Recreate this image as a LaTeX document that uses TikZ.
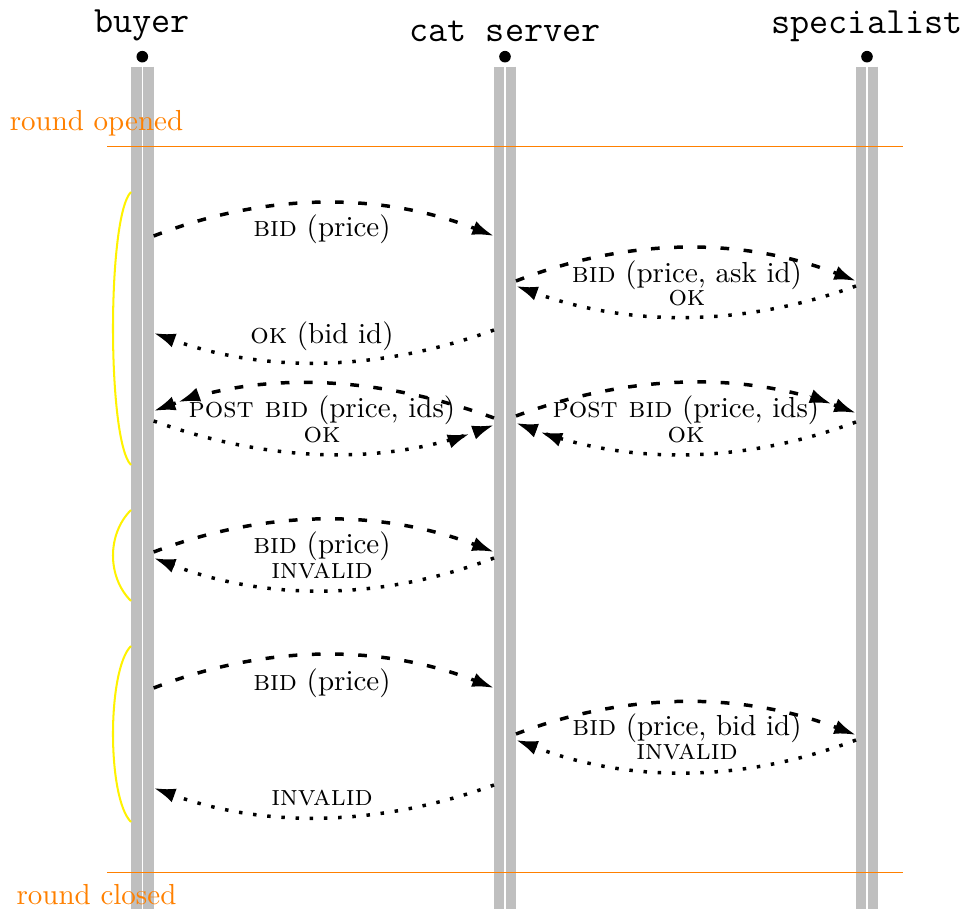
\documentclass[tikz,border=0pt]{standalone}
\usetikzlibrary{arrows.meta}
\begin{document}
\begin{tikzpicture}[x=0.3448pt,y=-0.3448pt,
  lifeline/.style={line width=7.8pt, color=lightgray},
  gapline/.style={line width=0.5pt, white},
  dot/.style={circle, fill=black, inner sep=0pt, minimum size=4pt},
  title/.style={font=\fontsize{12.8}{15}\selectfont\ttfamily, anchor=south, inner sep=0pt},
  tip/.style={-{Latex[length=7.5pt,width=5pt]}},
  dbl/.style={-{Latex[length=7.5pt,width=5pt,sep=1.5pt]Latex[length=7.5pt,width=5pt]}},
  req/.style={line width=1.2pt, dash pattern=on 3pt off 5pt},
  resp/.style={line width=1.2pt, dash pattern=on 1.2pt off 3.7pt},
  lbl/.style={inner sep=0pt},
  phase/.style={orange, line width=0.35pt},
  phasetext/.style={text=orange, inner sep=0pt},
  brace/.style={yellow, line width=0.7pt}]
\useasboundingbox (0,0) rectangle (972,909);

% participants
\node[dot] (bd) at (142.3,56.7) {};
\node[dot] (sd) at (505,56.7) {};
\node[dot] (pd) at (867,56.7) {};
\node[title] (bt) at (142.3,42) {buyer};
\node[title] (st) at (505,42) {cat server};
\node[title] (pt) at (867,42) {specialist};

\coordinate (btop) at (142.3,66.7); \coordinate (bbot) at (142.3,909);
\coordinate (stop) at (505,66.7);   \coordinate (sbot) at (505,909);
\coordinate (ptop) at (867,66.7);   \coordinate (pbot) at (867,909);
\draw[lifeline] (btop) -- (bbot); \draw[gapline] (btop) -- (bbot);
\draw[lifeline] (stop) -- (sbot); \draw[gapline] (stop) -- (sbot);
\draw[lifeline] (ptop) -- (pbot); \draw[gapline] (ptop) -- (pbot);

% round lines
\coordinate (o1) at (107,147); \coordinate (o2) at (903,147);
\coordinate (c1) at (107,873); \coordinate (c2) at (903,873);
\draw[phase] (o1) -- (o2);
\draw[phase] (c1) -- (c2);
\node[phasetext] (ro) at (96.5,123) {round opened};
\node[phasetext] (rc) at (96.5,895) {round closed};

% braces
\coordinate (y1a) at (131,192); \coordinate (y1b) at (131,465);
\coordinate (y2a) at (131,510); \coordinate (y2b) at (131,601);
\coordinate (y3a) at (131,646); \coordinate (y3b) at (131,822);
\draw[brace] (y1a) .. controls +(-24,24) and +(-24,-24) .. (y1b);
\draw[brace] (y2a) .. controls +(-24,24) and +(-24,-24) .. (y2b);
\draw[brace] (y3a) .. controls +(-24,24) and +(-24,-24) .. (y3b);

% message end points
\coordinate (a1s) at (153.7,236); \coordinate (a1e) at (494,236);
\coordinate (a2s) at (516,281);   \coordinate (a2e) at (856,281);
\coordinate (a3s) at (856,286);   \coordinate (a3e) at (516,286);
\coordinate (a4s) at (494,330);   \coordinate (a4e) at (153.7,333);
\coordinate (a5s) at (494,418);   \coordinate (a5e) at (153.7,411);
\coordinate (a6s) at (153.7,421); \coordinate (a6e) at (494,425);
\coordinate (a7s) at (516,416);   \coordinate (a7e) at (856,413);
\coordinate (a8s) at (856,422);   \coordinate (a8e) at (516,423);
\coordinate (a9s) at (153.7,552); \coordinate (a9e) at (494,552);
\coordinate (a10s) at (494,558);  \coordinate (a10e) at (153.7,558);
\coordinate (a11s) at (153.7,688);\coordinate (a11e) at (494,688);
\coordinate (a12s) at (516,734);  \coordinate (a12e) at (856,735);
\coordinate (a13s) at (856,740);  \coordinate (a13e) at (516,740);
\coordinate (a14s) at (494,785);  \coordinate (a14e) at (153.7,788);

\draw[req,tip]  (a1s) .. controls +(113,-44) and +(-113,-44) .. (a1e);
\draw[req,tip]  (a2s) .. controls +(113,-44) and +(-113,-44) .. (a2e);
\draw[resp,tip] (a3s) .. controls +(-113,41) and +(113,41) .. (a3e);
\draw[resp,tip] (a4s) .. controls +(-113,41) and +(113,41) .. (a4e);
\draw[req,dbl]  (a5s) .. controls +(-113,-41) and +(113,-41) .. (a5e);
\draw[resp,dbl] (a6s) .. controls +(113,41) and +(-113,41) .. (a6e);
\draw[req,dbl]  (a7s) .. controls +(113,-42) and +(-113,-42) .. (a7e);
\draw[resp,dbl] (a8s) .. controls +(-113,42) and +(113,42) .. (a8e);
\draw[req,tip]  (a9s) .. controls +(113,-43) and +(-113,-43) .. (a9e);
\draw[resp,tip] (a10s) .. controls +(-113,43) and +(113,43) .. (a10e);
\draw[req,tip]  (a11s) .. controls +(113,-44) and +(-113,-44) .. (a11e);
\draw[req,tip]  (a12s) .. controls +(113,-43) and +(-113,-43) .. (a12e);
\draw[resp,tip] (a13s) .. controls +(-113,43) and +(113,43) .. (a13e);
\draw[resp,tip] (a14s) .. controls +(-113,41) and +(113,41) .. (a14e);

% labels
\node[lbl] (l1)  at (322,229) {\textsc{bid} (price)};
\node[lbl] (l2)  at (687,275) {\textsc{bid} (price, ask id)};
\node[lbl] (l3)  at (687,298) {\textsc{ok}};
\node[lbl] (l4)  at (322,336) {\textsc{ok} (bid id)};
\node[lbl] (l5)  at (322,410) {\textsc{post bid} (price, ids)};
\node[lbl] (l6)  at (322,435) {\textsc{ok}};
\node[lbl] (l7)  at (686,410) {\textsc{post bid} (price, ids)};
\node[lbl] (l8)  at (686,435) {\textsc{ok}};
\node[lbl] (l9)  at (322,546) {\textsc{bid} (price)};
\node[lbl] (l10) at (322,571) {\textsc{invalid}};
\node[lbl] (l11) at (322,683) {\textsc{bid} (price)};
\node[lbl] (l12) at (687,728) {\textsc{bid} (price, bid id)};
\node[lbl] (l13) at (687,752) {\textsc{invalid}};
\node[lbl] (l14) at (322,798) {\textsc{invalid}};
\end{tikzpicture}
\end{document}
